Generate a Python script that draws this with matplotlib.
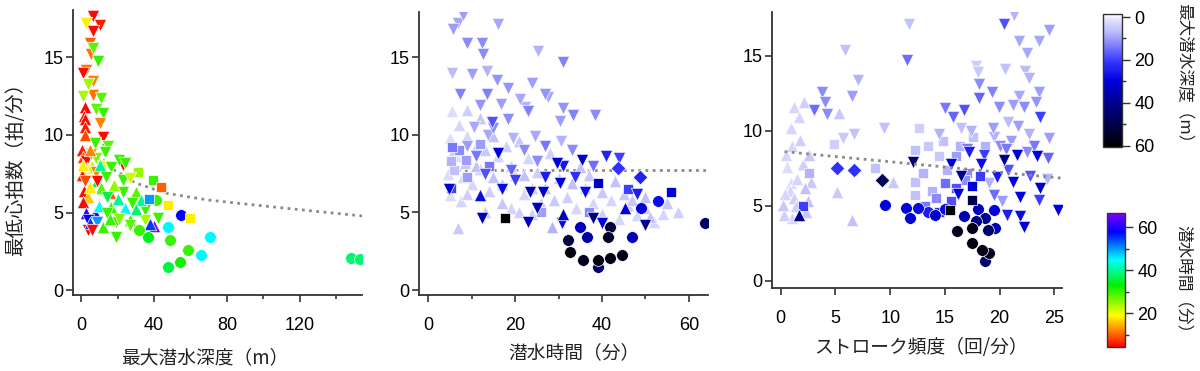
import numpy as np
import matplotlib
matplotlib.use("Agg")
import matplotlib.pyplot as plt
from matplotlib.colors import LinearSegmentedColormap, Normalize
from matplotlib.cm import ScalarMappable
from matplotlib.ticker import MultipleLocator

plt.rcParams['font.family'] = ['Liberation Sans', 'Noto Sans CJK JP', 'DejaVu Sans']
JP = ['Noto Sans CJK JP', 'DejaVu Sans']

# ---- panel 1: max dive depth (m) vs min heart rate, colour = dive duration (min)
p1_x = [6.6, 2.9, 10.2, 6.6, 4.8, 5.7, 9.3, 6.6, 2.9, 1.0, 6.6, 3.8, 6.6, 1.1, 11.1,
        8.4, 12.0, 2.0, 1.5, 2.0, 10.2, 2.0, 2.0, 12.0, 7.5, 14.5,
        0.5, 1.0, 2.5, 3.5, 0.8, 2.0, 1.5, 4.0, 5.5, 6.0, 8.0, 9.0, 11.0, 8.0, 12.0, 5.0,
        9.0, 23.0, 15.0,
        13.0, 1.1, 10.2, 21.0, 24.0, 16.5, 31.0, 39.5, 44.0, 4.7, 23.0, 13.7, 15.7, 23.0,
        30.0, 1.1, 47.7, 24.0, 16.5, 35.0, 41.0, 55.0, 60.0, 7.5, 2.9, 3.8, 3.8, 12.0,
        19.0, 19.0, 26.7, 35.0, 42.0, 14.0, 18.0, 27.0, 20.0, 28.0, 33.0, 37.0, 10.0,
        9.0, 5.0, 14.0, 6.0, 16.0, 27.0, 21.0, 30.0, 40.0, 38.0,
        47.7, 32.0, 36.7, 48.6, 70.5, 58.6, 65.8, 54.0, 47.7, 148.0, 153.0]
p1_y = [17.7, 17.2, 17.1, 16.7, 15.9, 15.2, 14.8, 15.6, 14.2, 14.0, 13.5, 13.3, 12.6, 12.5, 12.4,
        11.7, 11.4, 11.8, 11.2, 11.0, 10.8, 10.5, 10.0, 9.9, 9.5, 9.1,
        9.0, 8.6, 8.3, 7.9, 7.4, 7.0, 6.4, 6.0, 8.8, 8.0, 7.6, 7.0, 6.6, 8.5, 8.0, 9.0,
        7.0, 8.06, 9.3,
        8.9, 8.06, 8.06, 8.4, 8.2, 7.96, 7.6, 7.1, 6.67, 6.67, 7.1, 7.3, 6.25, 6.35,
        6.35, 5.7, 5.48, 5.3, 5.38, 5.16, 5.8, 4.84, 4.64, 4.96, 4.96, 4.5, 3.87, 4.08,
        3.44, 4.4, 4.5, 4.5, 4.64, 6.0, 6.8, 7.2, 5.9, 5.6, 5.8, 5.9, 5.4,
        4.4, 4.3, 5.0, 3.9, 4.6, 4.2, 4.6, 5.2, 4.1, 4.25,
        4.08, 3.87, 3.44, 3.22, 3.44, 2.58, 2.26, 1.83, 1.5, 2.05, 2.0]
p1_c = [5, 18, 6, 5, 10, 11, 30, 28, 11, 5, 12, 24, 11, 24, 28,
        28, 30, 5, 5, 5, 12, 6, 9, 5, 30, 30,
        6, 8, 5, 18, 6, 9, 5, 16, 14, 22, 12, 36, 28, 26, 20, 12,
        5, 5, 28,
        30, 18, 40, 30, 30, 30, 25, 30, 10, 18, 30, 30, 10, 30,
        28, 5, 18, 45, 30, 30, 30, 58, 18, 60, 60, 58, 5, 30,
        30, 30, 30, 24, 30, 36, 25, 22, 40, 30, 40, 50, 44,
        50, 55, 30, 5, 30, 28, 26, 38, 66, 55,
        45, 30, 34, 30, 45, 30, 45, 32, 36, 38, 38]
p1_m = ("vvvvvvvvvvvvvvv"
        "vv^^^v^^vvv"
        "^^v^^v^^v^v^^vv^"
        "vvv"
        "v^^vvvsss^vv^v"
        "^^s^^voos^^vv^"
        "vv^vvv^v^v^s^"
        "v^vv^vv^^^"
        "ooooooooooo")

# ---- panel 2: dive duration (min) vs min heart rate, colour = max depth (m)
p2_x = [8.1, 6.9, 5.8, 16.1, 8.9, 12.3, 12.7, 25.3, 31.0, 5.4, 10.0, 13.5, 15.8, 23.8,
        18.4, 7.4, 13.5, 26.9, 21.1, 22.3, 12.0, 31.0, 14.6, 23.0, 18.4, 30.3, 13.8,
        33.3, 38.4, 27.5, 16.8, 19.5, 24.5, 30.5, 10.5,
        5.5, 7.0, 5.0, 9.0, 11.0, 6.5, 4.5, 8.0, 12.0, 10.0, 5.0, 7.5, 14.0, 16.0, 18.0,
        21.0, 20.0, 17.0, 23.0, 25.0, 22.0, 26.0, 19.0, 28.0, 30.0, 32.0, 34.0, 36.0,
        38.0, 40.0, 42.0, 44.0, 46.0, 48.0, 50.0, 52.0, 54.0, 57.5, 6.9, 28.4, 35.0,
        45.0, 50.0, 24.0, 13.0, 15.0, 9.0, 12.0,
        6.0, 8.5, 11.0, 13.0, 15.0, 19.0, 22.0, 24.0, 27.0, 29.0, 33.0, 37.0, 40.0, 43.0,
        47.0, 51.0, 55.0, 9.0, 17.0, 21.0,
        5.5, 5.3, 6.0, 8.8, 5.2, 12.0, 7.0, 9.0, 14.0, 26.0, 37.0,
        9.0, 15.0, 22.0, 27.0, 33.0, 11.0, 19.0, 25.0,
        29.6, 35.3, 41.0, 43.7, 48.7, 56.0, 12.0, 12.3, 17.7, 23.0, 45.3, 52.9, 63.7,
        46.8, 41.4, 32.2, 34.9, 36.5, 32.6, 35.6, 39.1, 39.1, 41.8, 44.5, 38.0, 41.8,
        30.7, 23.4, 26.4, 30.3, 39.0, 33.8, 17.0, 20.0, 16.0, 31.0, 38.0, 44.0, 48.0,
        50.0, 49.0, 27.0, 36.0, 31.0, 40.0, 46.0, 4.8, 13.0, 25.0]
p2_y = [17.7, 17.2, 16.8, 17.1, 15.9, 15.9, 15.2, 15.4, 14.7, 14.0, 13.9, 14.1, 13.5, 13.3,
        13.0, 12.6, 12.6, 12.6, 12.3, 11.8, 11.9, 11.7, 10.8, 11.5, 11.0, 10.9, 10.0,
        11.3, 11.3, 12.4, 12.0, 9.8, 9.9, 9.6, 10.5,
        11.5, 10.6, 9.8, 9.9, 9.2, 8.6, 7.5, 7.3, 7.8, 6.8, 6.1, 5.7, 6.4, 8.6, 9.3,
        9.6, 7.4, 6.8, 8.5, 7.6, 6.2, 5.6, 5.3, 8.8, 7.2, 6.0, 5.3, 6.6,
        5.6, 4.9, 5.8, 4.6, 5.5, 4.8, 5.3, 4.4, 4.9, 5.0, 4.0, 4.08, 7.9,
        6.2, 6.0, 4.9, 5.0, 9.9, 11.6, 11.1,
        9.0, 8.2, 8.0, 9.0, 7.3, 8.0, 7.4, 6.6, 6.6, 5.8, 6.9, 7.4, 6.3, 7.0,
        5.8, 4.7, 5.6, 6.2, 5.6, 5.0,
        9.2, 8.3, 7.7, 8.4, 6.6, 9.4, 9.0, 7.3, 8.0, 5.0, 5.0,
        9.3, 10.4, 9.0, 9.3, 9.0, 8.6, 7.7, 8.3,
        8.2, 8.4, 8.6, 7.85, 7.3, 6.34, 6.1, 4.64, 4.64, 4.4, 5.3, 5.7, 4.3,
        3.44, 3.44, 3.22, 4.08, 3.44, 2.47, 1.94, 1.94, 1.5, 2.06, 2.26, 4.64, 4.08,
        4.3, 6.34, 6.34, 6.9, 6.9, 7.3, 6.5, 7.1, 8.8, 8.0, 8.0, 8.5, 6.2,
        4.2, 5.3, 7.3, 6.3, 4.9, 4.3, 6.5, 6.5, 7.5, 5.3]
p2_c = [10, 9, 10, 9, 12, 12, 12, 8, 13, 7, 10, 8, 11, 10,
        11, 13, 13, 11, 9, 8, 11, 11, 18, 13, 12, 10, 9,
        13, 12, 9, 10, 8, 9, 8, 9,
        2, 3, 2, 3, 4, 2, 2, 3, 4, 3, 2, 3, 4, 3, 4,
        5, 3, 5, 3, 4, 3, 4, 3, 4, 5, 4, 3, 4,
        3, 4, 3, 3, 4, 3, 4, 3, 3, 4, 5, 8, 6,
        5, 6, 4, 5, 6, 4, 5,
        4, 5, 6, 5, 6, 5, 6, 5, 6, 5, 6, 5, 5, 6,
        5, 6, 5, 4, 5, 4,
        14, 8, 6, 10, 20, 10, 12, 10, 14, 10, 12,
        10, 12, 12, 14, 12, 14, 16, 12,
        30, 33, 24, 22, 24, 30, 28, 35, 60, 35, 30, 28, 45,
        35, 55, 52, 35, 38, 58, 56, 58, 45, 58, 57, 42, 52,
        28, 35, 32, 30, 33, 22, 28, 20, 30, 26, 15, 20, 25,
        40, 30, 25, 28, 35, 30, 20, 30, 18, 35]
p2_m = ("v" * 35 + "^" * 48 + "^" * 20 + "s" * 11 + "v" * 8 +
        "vvvDDs^vsv^oo"
        "ooooooooooovo"
        "vvvvsvvvvvvvv"
        "vovv^vsvvv")

# ---- panel 3: stroke rate (/min) vs min heart rate, colour = max depth (m)
p3_x = [21.3, 20.4, 24.5, 11.7, 5.9, 11.5, 21.8, 23.6, 22.5, 20.5, 17.8, 18.0, 22.7,
        22.3, 7.1, 18.1, 19.3, 23.6, 21.8, 18.1, 3.75, 6.5, 4.0, 3.0, 4.2, 5.3, 1.2, 2.1,
        1.7, 0.9, 9.4, 15.0, 16.7, 15.7, 19.9, 21.2, 22.2, 23.3, 23.7, 24.5, 22.7, 5.7,
        6.7, 4.9, 12.6, 17.4, 16.5, 19.5, 21.0, 14.5, 20.8,
        5.1, 6.7, 9.25, 9.5, 8.6, 10.3, 5.1, 6.5, 1.7, 0.25, 0.3, 0.8, 1.5, 0.6, 2.0,
        2.5, 1.2, 2.6, 2.6, 2.2, 2.0,
        0.5, 1.0, 1.8, 0.4, 1.4, 2.3, 1.0, 2.8, 0.9,
        11.4, 12.5, 11.8, 12.3, 12.3, 12.3, 13.5, 14.5, 13.8, 15.0, 16.0, 15.2, 14.2,
        17.0, 16.0, 15.5, 17.5, 17.5,
        13.0, 14.8, 16.4, 17.6, 18.7, 15.6, 16.8, 13.2, 14.5, 18.2,
        16.7, 16.1, 17.5, 17.5, 18.4, 18.7, 19.0, 19.5, 19.6, 18.9, 18.7, 14.1, 15.0,
        13.5, 17.8, 18.0,
        20.4, 21.6, 23.4, 23.7, 21.9, 21.2, 25.3, 22.2, 21.9, 20.7, 23.6, 17.2, 12.1,
        19.0, 20.2, 16.5, 18.3, 19.5, 22.8, 24.3, 20.0, 22.5, 17.0, 15.6, 16.2,
        19.4, 20.6, 21.7, 23.1, 24.4, 18.6, 20.8, 19.8]
p3_y = [17.7, 17.1, 16.7, 17.1, 15.4, 14.7, 16.0, 16.0, 15.2, 14.1, 14.3, 13.9, 13.5,
        14.0, 13.4, 13.1, 12.6, 12.6, 12.3, 12.2, 12.6, 12.3, 11.9, 11.4, 11.1, 11.2, 11.6,
        11.95, 10.95, 10.2, 10.2, 11.5, 11.4, 10.9, 11.6, 11.7, 11.6, 11.9, 10.9, 9.5, 9.8,
        9.5, 9.8, 9.1, 10.2, 10.0, 10.2, 9.6, 9.3, 9.8, 10.6,
        7.5, 7.4, 6.7, 5.07, 7.5, 6.6, 5.95, 4.07, 4.4, 5.07, 4.4, 6.0, 6.8, 7.6, 7.8,
        5.3, 5.5, 8.4, 7.2, 6.2, 5.0,
        8.4, 9.0, 9.4, 5.8, 5.0, 4.6, 4.2, 6.6, 6.5,
        4.87, 4.87, 4.2, 8.73, 6.6, 5.7, 9.0, 8.3, 6.0, 6.5, 8.3, 7.4, 5.5,
        7.2, 6.2, 4.73, 5.4, 6.3,
        7.2, 9.3, 9.0, 9.6, 9.0, 5.3, 6.7, 5.0, 4.6, 7.0,
        4.3, 3.3, 3.5, 2.53, 2.07, 1.3, 1.87, 4.73, 3.5, 3.4, 4.2, 4.4, 4.8,
        4.6, 4.0, 4.8,
        8.07, 8.4, 8.3, 6.2, 5.6, 6.6, 4.73, 3.6, 4.3, 4.4, 5.4, 8.6, 7.95,
        6.5, 5.3, 7.0, 7.8, 5.7, 7.0, 6.8, 9.0, 8.6, 8.8, 7.8, 5.8,
        10.2, 8.8, 10.3, 9.0, 8.2, 8.4, 7.4, 6.9]
p3_c = [8, 18, 10, 6, 6, 15, 9, 9, 9, 6, 4, 5, 8,
        7, 8, 12, 13, 10, 9, 16, 12, 10, 12, 15, 12, 5, 3, 4,
        3, 3, 6, 14, 18, 16, 12, 10, 12, 11, 20, 10, 8, 5,
        6, 4, 4, 8, 6, 8, 10, 8, 7,
        22, 22, 48, 30, 6, 5, 5, 6, 40, 5, 4, 3, 3, 2, 4,
        6, 4, 5, 8, 6, 20,
        3, 3, 4, 3, 4, 5, 3, 5, 2,
        30, 28, 30, 6, 6, 6, 5, 5, 8, 15, 10, 8, 12,
        12, 18, 60, 50, 30,
        8, 6, 8, 6, 8, 18, 12, 14, 22, 20,
        35, 57, 58, 58, 58, 45, 56, 30, 35, 45, 40, 32, 28,
        25, 42, 35,
        40, 32, 30, 32, 30, 30, 30, 30, 28, 25, 20, 25, 45,
        8, 10, 40, 28, 15, 18, 8, 12, 12, 14, 30, 30,
        10, 14, 10, 14, 16, 20, 18, 26]
p3_m = ("v" * 25 + "^" * 5 + "v" * 13 + "ss" + "v" * 6 +
        "DDDos" + "^" * 10 +
        "^^^s^s" +
        "^" * 9 +
        "ooo" + "s" * 10 +
        "s" * 5 +
        "s" * 10 +
        "o" * 13 +
        "ooo" +
        "v" * 13 +
        "v" * 12 +
        "v" * 8)

# trend lines
p1_fit_x = [12, 16, 30, 46, 70, 98, 125, 154]
p1_fit_y = [8.4, 7.9, 6.9, 6.26, 5.8, 5.45, 5.12, 4.78]
p2_fit_x = [5.1, 64.4]
p2_fit_y = [7.74, 7.74]
p3_fit_x = [0.35, 25.7]
p3_fit_y = [8.62, 6.85]

depth_cmap = LinearSegmentedColormap.from_list('depth', [
    (0.0, '#ffffff'), (0.04, '#e2e2ff'), (0.14, '#b8b8fa'), (0.35, '#3a3aff'),
    (0.5, '#0000e0'), (0.72, '#000078'), (1.0, '#000000')])
dur_cmap = LinearSegmentedColormap.from_list('dur', [
    (0.0, '#ff0000'), (0.12, '#ff8000'), (0.235, '#ffff00'), (0.46, '#00f000'),
    (0.65, '#00ffff'), (0.86, '#0000ff'), (1.0, '#8000ff')])
depth_norm = Normalize(-1.4, 60.5)
dur_norm = Normalize(4.4, 66.5)

sizes = {'v': 80, '^': 80, 's': 62, 'o': 72, 'D': 56}

fig = plt.figure(figsize=(12, 3.71), dpi=100)


def style_axis(ax):
    for s in ['top', 'right']:
        ax.spines[s].set_visible(False)
    for s in ['left', 'bottom']:
        ax.spines[s].set_color('#333333')
        ax.spines[s].set_linewidth(1.3)
    ax.tick_params(axis='both', which='major', direction='out', length=5,
                   width=1.2, color='#333333', labelsize=13)
    ax.tick_params(axis='x', which='both', pad=11)
    ax.tick_params(axis='y', pad=2)
    ax.tick_params(axis='x', which='minor', length=3, width=1.2, color='#333333')
    ax.yaxis.set_major_locator(MultipleLocator(5))


def draw_points(ax, xs, ys, cs, ms, cmap, norm, sort_by_color):
    order = np.argsort(cs, kind='stable') if sort_by_color else range(len(xs))
    for i in order:
        ax.scatter(xs[i], ys[i], s=sizes[ms[i]], marker=ms[i], c=[cmap(norm(cs[i]))],
                   edgecolors='white', linewidths=0.5, zorder=3)


# panel 1
ax1 = fig.add_axes([73 / 1200, 1 - 295 / 371, 289 / 1200, 285 / 371])
ax1.plot(p1_fit_x, p1_fit_y, linestyle=(0, (1, 1.6)), color='#8a8a8a', lw=2, zorder=2)
draw_points(ax1, p1_x, p1_y, p1_c, p1_m, dur_cmap, dur_norm, False)
ax1.set_xlim(-4.4, 154)
ax1.set_ylim(-0.32, 18.06)
ax1.set_xticks([0, 40, 80, 120])
ax1.xaxis.set_minor_locator(MultipleLocator(20))
style_axis(ax1)

# panel 2
ax2 = fig.add_axes([419 / 1200, 1 - 295 / 371, 289 / 1200, 283 / 371])
ax2.plot(p2_fit_x, p2_fit_y, linestyle=(0, (1, 1.6)), color='#8a8a8a', lw=2, zorder=2)
draw_points(ax2, p2_x, p2_y, p2_c, p2_m, depth_cmap, depth_norm, True)
ax2.set_xlim(-2.1, 64.4)
ax2.set_ylim(-0.32, 17.9)
ax2.set_xticks([0, 20, 40, 60])
ax2.xaxis.set_minor_locator(MultipleLocator(10))
style_axis(ax2)

# panel 3
ax3 = fig.add_axes([772 / 1200, 1 - 288 / 371, 290 / 1200, 276 / 371])
ax3.plot(p3_fit_x, p3_fit_y, linestyle=(0, (1, 1.6)), color='#8a8a8a', lw=2, zorder=4)
draw_points(ax3, p3_x, p3_y, p3_c, p3_m, depth_cmap, depth_norm, True)
ax3.set_xlim(-0.8, 25.7)
ax3.set_ylim(-0.47, 17.93)
ax3.set_xticks([0, 5, 10, 15, 20, 25])
style_axis(ax3)

# colour bars
cax1 = fig.add_axes([1103 / 1200, 1 - 147 / 371, 19 / 1200, 133 / 371])
cb1 = fig.colorbar(ScalarMappable(norm=depth_norm, cmap=depth_cmap), cax=cax1)
cax1.invert_yaxis()
cb1.set_ticks([0, 20, 40, 60])
cax1.yaxis.set_minor_locator(MultipleLocator(10))

cax2 = fig.add_axes([1107 / 1200, 1 - 347 / 371, 18 / 1200, 134 / 371])
cb2 = fig.colorbar(ScalarMappable(norm=dur_norm, cmap=dur_cmap), cax=cax2)
cb2.set_ticks([20, 40, 60])
cax2.yaxis.set_minor_locator(MultipleLocator(10))

for cb, cax in [(cb1, cax1), (cb2, cax2)]:
    cb.outline.set_linewidth(1.0)
    cb.outline.set_edgecolor('#333333')
    cax.tick_params(which='major', length=6, width=1, color='#333333', labelsize=13, pad=3)
    cax.tick_params(which='minor', length=3, width=1, color='#333333')

# labels
fig.text(0.013, 1 - 164 / 371, '最低心拍数（拍/分）', rotation=90, ha='center', va='center',
         fontsize=14, family=JP, color='#222222')
fig.text(205 / 1200, 1 - 358 / 371, '最大潜水深度（m）', ha='center', va='center',
         fontsize=13.5, family=JP, color='#222222')
fig.text(574 / 1200, 1 - 353 / 371, '潜水時間（分）', ha='center', va='center',
         fontsize=13.5, family=JP, color='#222222')
fig.text(921 / 1200, 1 - 347 / 371, 'ストローク頻度（回/分）', ha='center', va='center',
         fontsize=13.5, family=JP, color='#222222')
fig.text(1183 / 1200, 1 - 77 / 371, '最大潜水深度（m）', rotation=270, ha='center', va='center',
         fontsize=12, family=JP, color='#222222')
fig.text(1183 / 1200, 1 - 283 / 371, '潜水時間（分）', rotation=270, ha='center', va='center',
         fontsize=12, family=JP, color='#222222')

fig.savefig('out.png', dpi=100)
